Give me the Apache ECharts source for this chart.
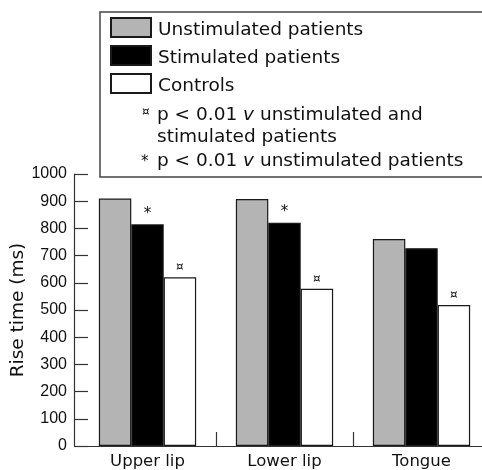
<!DOCTYPE html>
<html>
<head>
<meta charset="utf-8">
<script src="https://cdn.jsdelivr.net/npm/echarts@6/dist/echarts.min.js"></script>
<style>
  html, body { margin: 0; padding: 0; background: #fff; }
  #chart { width: 482px; height: 470px; }
</style>
</head>
<body>
<div id="chart"></div>
<script>
// Rise time of the response for each site, by group (ms)
const sites = ['Upper lip', 'Lower lip', 'Tongue'];
const unstimulated = [910, 908, 761];
const stimulated = [815, 821, 727];
const controls = [620, 578, 518];

// Significance markers drawn above the bars
const stimMarks = ['*', '*', ''];                    // p < 0.01 v unstimulated patients
const controlMarks = ['\u00a4', '\u00a4', '\u00a4']; // p < 0.01 v both patient groups

const yTicks = { min: 0, max: 1000, step: 100 };

const textFont = 'DejaVu Sans';
const numFont = 'Liberation Sans';
const axisColor = '#333';

const chart = echarts.init(document.getElementById('chart'), null, { renderer: 'canvas' });

const edge = { borderColor: '#1a1a1a', borderWidth: 1.2 };

function markLabel(marks, size, dist) {
  return {
    show: true,
    position: 'top',
    distance: dist,
    fontFamily: textFont,
    fontSize: size,
    color: '#111',
    formatter: p => marks[p.dataIndex]
  };
}

function barSeries(name, color, values, label) {
  const s = {
    name: name,
    type: 'bar',
    barGap: '0%',
    barCategoryGap: '29%',
    itemStyle: Object.assign({ color: color }, edge),
    data: values
  };
  if (label) s.label = label;
  return s;
}

const option = {
  animation: false,
  backgroundColor: '#fff',
  // plot bands start a few pixels right of the value axis line; the last band runs past the edge
  grid: { left: 79, right: -8, top: 174, bottom: 24, containLabel: false, outerBoundsMode: 'none' },
  legend: {
    orient: 'vertical',
    left: 110,
    top: 17,
    padding: 0,
    itemWidth: 40,
    itemHeight: 19,
    itemGap: 5,
    icon: 'rect',
    formatter: name => '{t|' + name + '}',
    textStyle: {
      fontFamily: textFont, fontSize: 18.5, color: '#111',
      rich: { t: { fontFamily: textFont, fontSize: 18.5, color: '#111', padding: [6, 0, 0, 2] } }
    },
    data: ['Unstimulated patients', 'Stimulated patients', 'Controls']
  },
  xAxis: {
    type: 'category',
    data: sites,
    axisLine: { show: true, lineStyle: { color: axisColor, width: 1.2 } },
    axisTick: { show: true, inside: true, length: 14, interval: i => i > 0, lineStyle: { color: axisColor, width: 1.2 } },
    axisLabel: { margin: 7, fontFamily: textFont, fontSize: 16.5, color: '#111' },
    splitLine: { show: false }
  },
  yAxis: {
    type: 'value',
    min: yTicks.min,
    max: yTicks.max,
    interval: yTicks.step,
    offset: 5,
    name: 'Rise time (ms)',
    nameLocation: 'middle',
    nameGap: 46,
    nameMoveOverlap: false,
    nameTextStyle: { fontFamily: textFont, fontSize: 18.5, color: '#111' },
    axisLine: { show: true, lineStyle: { color: axisColor, width: 1.2 } },
    axisTick: { show: true, inside: true, length: 14, lineStyle: { color: axisColor, width: 1.2 } },
    axisLabel: { margin: 7, fontFamily: numFont, fontSize: 16, color: '#111', formatter: v => String(v) },
    splitLine: { show: false }
  },
  series: [
    barSeries('Unstimulated patients', '#b4b4b4', unstimulated),
    barSeries('Stimulated patients', '#000', stimulated, markLabel(stimMarks, 15, 3)),
    barSeries('Controls', '#fff', controls, markLabel(controlMarks, 12, 4))
  ],
  graphic: [
    {
      type: 'rect',
      z: 0,
      shape: { x: 100, y: 12, width: 420, height: 165 },
      style: { fill: 'none', stroke: '#444', lineWidth: 1.5 }
    },
    {
      type: 'text', x: 142, y: 112,
      style: { text: '\u00a4', fontFamily: textFont, fontSize: 12, fill: '#111', verticalAlign: 'middle' }
    },
    {
      type: 'text', x: 157, y: 115,
      style: {
        text: 'p < 0.01 {v|v} unstimulated and',
        fontFamily: textFont, fontSize: 18.5, fill: '#111', verticalAlign: 'middle',
        rich: { v: { fontFamily: textFont, fontSize: 18.5, fontStyle: 'italic', fill: '#111' } }
      }
    },
    {
      type: 'text', x: 157, y: 137,
      style: { text: 'stimulated patients', fontFamily: textFont, fontSize: 18.5, fill: '#111', verticalAlign: 'middle' }
    },
    {
      type: 'text', x: 141, y: 162,
      style: { text: '*', fontFamily: textFont, fontSize: 15, fill: '#111', verticalAlign: 'middle' }
    },
    {
      type: 'text', x: 157, y: 161,
      style: {
        text: 'p < 0.01 {v|v} unstimulated patients',
        fontFamily: textFont, fontSize: 18.5, fill: '#111', verticalAlign: 'middle',
        rich: { v: { fontFamily: textFont, fontSize: 18.5, fontStyle: 'italic', fill: '#111' } }
      }
    }
  ]
};

chart.setOption(option);
</script>
</body>
</html>
